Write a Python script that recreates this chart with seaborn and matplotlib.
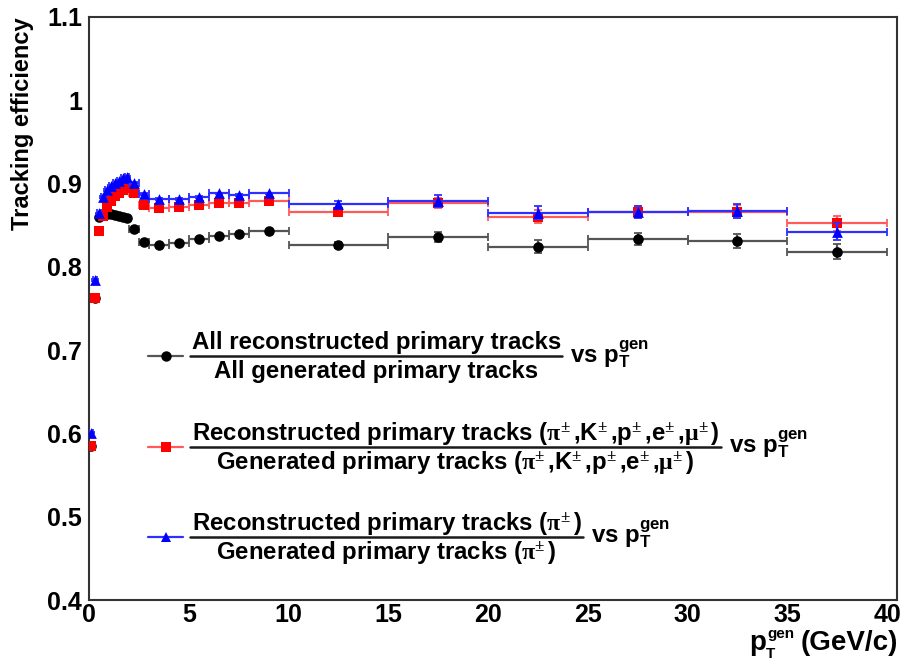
import matplotlib
matplotlib.use("Agg")
import matplotlib.pyplot as plt
from matplotlib.lines import Line2D
from matplotlib.ticker import MultipleLocator, FuncFormatter
import pandas as pd
import seaborn as sns

# ---- data -------------------------------------------------------------
# generated-pT bin centres and half-widths (GeV/c)
pt_centers = [0.1, 0.3, 0.5, 0.7, 0.9, 1.1, 1.3, 1.5, 1.7, 1.9, 2.25, 2.75,
              3.5, 4.5, 5.5, 6.5, 7.5, 9.0, 12.5, 17.5, 22.5, 27.5, 32.5, 37.5]
pt_halfwidths = [0.1, 0.1, 0.1, 0.1, 0.1, 0.1, 0.1, 0.1, 0.1, 0.1, 0.25, 0.25,
                 0.5, 0.5, 0.5, 0.5, 0.5, 1.0, 2.5, 2.5, 2.5, 2.5, 2.5, 2.5]

# all reconstructed / all generated primary tracks
eff_all = [0.585, 0.762, 0.860, 0.862, 0.863, 0.863, 0.862, 0.861, 0.860, 0.858,
           0.845, 0.830, 0.826, 0.829, 0.833, 0.837, 0.839, 0.843,
           0.826, 0.836, 0.824, 0.833, 0.831, 0.818]
err_all = [0.001] * 18 + [0.004, 0.006, 0.008, 0.007, 0.008, 0.009]

# charged species (pi, K, p, e, mu)
eff_charged = [0.585, 0.762, 0.843, 0.861, 0.872, 0.879, 0.885, 0.889, 0.892, 0.894,
               0.889, 0.874, 0.870, 0.872, 0.874, 0.877, 0.877, 0.879,
               0.866, 0.877, 0.860, 0.866, 0.866, 0.852]
err_charged = [0.001] * 18 + [0.004, 0.006, 0.008, 0.007, 0.008, 0.009]

# charged pions only
eff_pion = [0.601, 0.784, 0.864, 0.884, 0.892, 0.897, 0.900, 0.903, 0.906, 0.908,
            0.901, 0.887, 0.881, 0.881, 0.884, 0.888, 0.886, 0.888,
            0.875, 0.879, 0.865, 0.866, 0.867, 0.842]
err_pion = [0.001] * 18 + [0.004, 0.007, 0.008, 0.007, 0.008, 0.010]

x_ticks = [0, 5, 10, 15, 20, 25, 30, 35, 40]
y_ticks = [0.4, 0.5, 0.6, 0.7, 0.8, 0.9, 1.0, 1.1]

# ---- style ------------------------------------------------------------
sns.set_theme(style="white")
FONT = "Liberation Sans"
plt.rcParams["font.family"] = [FONT, "DejaVu Sans"]
plt.rcParams["font.weight"] = "bold"
plt.rcParams["text.color"] = "black"
plt.rcParams["axes.labelcolor"] = "black"
plt.rcParams["xtick.color"] = "black"
plt.rcParams["ytick.color"] = "black"
plt.rcParams["mathtext.fontset"] = "custom"
plt.rcParams["mathtext.rm"] = "Liberation Serif"
plt.rcParams["mathtext.it"] = "Liberation Serif:italic"
plt.rcParams["mathtext.bf"] = "Liberation Sans:bold"

W, H = 902, 664
fig = plt.figure(figsize=(W / 100, H / 100), dpi=100)
left, right, top, bottom = 89, 897, 16.7, 600
ax = fig.add_axes([left / W, 1 - bottom / H, (right - left) / W, (bottom - top) / H])

series = [
    dict(y=eff_all, e=err_all, marker="o", mcolor="black", lcolor="#555555", s=58),
    dict(y=eff_charged, e=err_charged, marker="s", mcolor="#ff0000", lcolor="#ff5a5a", s=44),
    dict(y=eff_pion, e=err_pion, marker="^", mcolor="#0000ff", lcolor="#2f2fff", s=60),
]

z = 3
for sr in series:
    df = pd.DataFrame({"pt": pt_centers, "eff": sr["y"],
                       "xerr": pt_halfwidths, "yerr": sr["e"]})
    ax.errorbar(df["pt"], df["eff"], xerr=df["xerr"], yerr=df["yerr"], fmt="none",
                ecolor=sr["lcolor"], elinewidth=1.6, capsize=2.8, capthick=1.3,
                zorder=z)
    sns.scatterplot(data=df, x="pt", y="eff", marker=sr["marker"], color=sr["mcolor"],
                    s=sr["s"], linewidth=0, ax=ax, zorder=z + 1, legend=False)
    z += 2

# ---- axes -------------------------------------------------------------
ax.set_xlim(0, 40.5)
ax.set_ylim(0.4, 1.1)
ax.set_xticks(x_ticks)
ax.set_yticks(y_ticks)
ax.xaxis.set_minor_locator(MultipleLocator(1))
ax.yaxis.set_minor_locator(MultipleLocator(0.02))
ax.xaxis.set_major_formatter(FuncFormatter(lambda v, p: f"{v:g}"))
ax.yaxis.set_major_formatter(FuncFormatter(lambda v, p: f"{v:g}"))
ax.set_xlabel("")
ax.set_ylabel("")
ax.tick_params(axis="both", which="both", direction="in", top=False, right=False,
               colors="#222222", labelcolor="black")
ax.tick_params(axis="x", which="major", length=12.6, width=1.2, pad=2, labelsize=18)
ax.tick_params(axis="x", which="minor", length=6.3, width=1.0)
ax.tick_params(axis="y", which="major", length=17.3, width=1.2, pad=5, labelsize=18)
ax.tick_params(axis="y", which="minor", length=8.6, width=1.0)
for lab in ax.get_xticklabels() + ax.get_yticklabels():
    lab.set_fontweight("bold")
for sp in ax.spines.values():
    sp.set_color("#333333")
    sp.set_linewidth(1.5)


def fx(px):
    return px / W


def fy(py):
    return 1 - py / H


fig.text(23 / W, 1 - 17 / H, "Tracking efficiency", rotation=90, ha="center",
         va="top", fontsize=17, fontweight="bold")

fig.canvas.draw()
renderer = fig.canvas.get_renderer()

# x-axis title built from pieces: p, superscript "gen", subscript "T", unit
xl_base = 650
t_p = fig.text(0, fy(xl_base), "p", ha="left", va="baseline", fontsize=20, fontweight="bold")
t_gen = fig.text(0, fy(xl_base - 12), "gen", ha="left", va="baseline", fontsize=11,
                 fontweight="bold")
t_T = fig.text(0, fy(xl_base + 8), "T", ha="left", va="baseline", fontsize=11,
               fontweight="bold")
t_unit = fig.text(fx(898), fy(xl_base), "(GeV/c)", ha="right", va="baseline", fontsize=20,
                  fontweight="bold")
w_unit = t_unit.get_window_extent(renderer).width
w_p = t_p.get_window_extent(renderer).width
w_gen = t_gen.get_window_extent(renderer).width
x_unit0 = 898 - w_unit
x_p0 = x_unit0 - 7 - w_gen - w_p
t_p.set_x(fx(x_p0))
t_gen.set_x(fx(x_p0 + w_p + 0.5))
t_T.set_x(fx(x_p0 + w_p - 1))

# ---- fraction-style legend -------------------------------------------
pt_sym = r"$\mathbf{p}_{\mathbf{T}}^{\mathbf{gen}}$"
pm = r"$^{\pm}\,$"
pi_pm = r"$\mathrm{\pi}^{\pm}\,$"
mu_pm = r"$\mathrm{\mu}^{\pm}\,$"
species = "(" + pi_pm + ",K" + pm + ",p" + pm + ",e" + pm + "," + mu_pm + ")"
legend_rows = [
    ("All reconstructed primary tracks", "All generated primary tracks", series[0], 356),
    ("Reconstructed primary tracks " + species,
     "Generated primary tracks " + species, series[1], 447),
    ("Reconstructed primary tracks (" + pi_pm + ")",
     "Generated primary tracks (" + pi_pm + ")", series[2], 537),
]

fs = 17.3
bar_x0 = 190
for num, den, sr, yb in legend_rows:
    fig.add_artist(Line2D([fx(148), fx(183)], [fy(yb), fy(yb)], transform=fig.transFigure,
                          color=sr["lcolor"], lw=1.6))
    fig.add_artist(Line2D([fx(166)], [fy(yb)], transform=fig.transFigure,
                          marker=sr["marker"], color=sr["mcolor"],
                          ms=7.5 if sr["marker"] != "s" else 6.6,
                          mew=0, linestyle="none"))
    t_num = fig.text(fx(bar_x0 + 2), fy(yb - 7), num, ha="left", va="baseline",
                     fontsize=fs, fontweight="bold")
    t_den = fig.text(0, fy(yb + 22), den, ha="center", va="baseline",
                     fontsize=fs, fontweight="bold")
    wn = t_num.get_window_extent(renderer).width
    wd = t_den.get_window_extent(renderer).width
    bar_w = max(wn, wd) + 3
    bar_x1 = bar_x0 + bar_w
    t_num.set_x(fx(bar_x0 + (bar_w - wn) / 2))
    t_den.set_x(fx(bar_x0 + bar_w / 2))
    fig.add_artist(Line2D([fx(bar_x0), fx(bar_x1)], [fy(yb), fy(yb)],
                          transform=fig.transFigure, color="#1a1a1a", lw=1.8))
    fig.text(fx(bar_x1 + 8), fy(yb + 6), "vs " + pt_sym, ha="left", va="baseline",
             fontsize=fs, fontweight="bold")

fig.savefig("out.png", dpi=100)
